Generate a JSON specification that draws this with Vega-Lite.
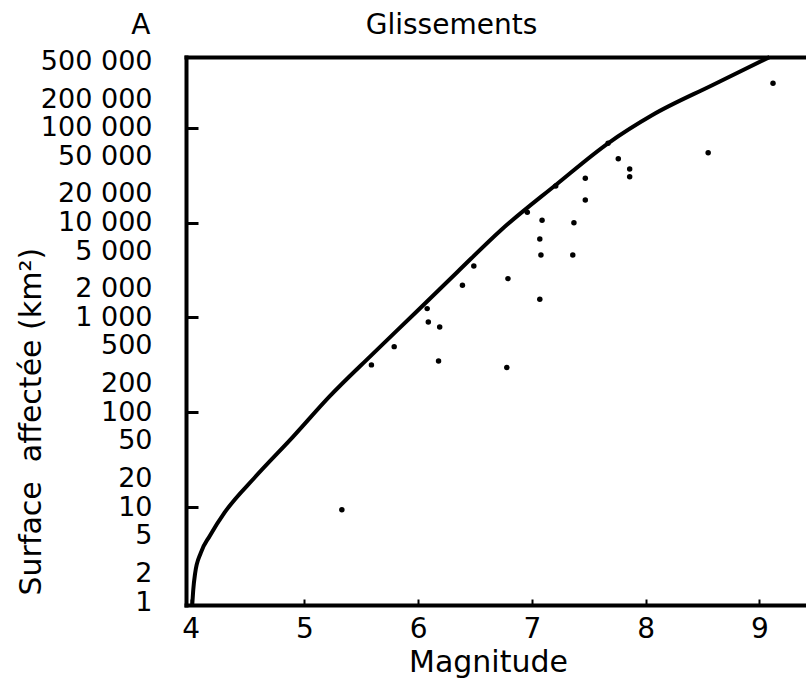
{
  "$schema": "https://vega.github.io/schema/vega-lite/v6.json",
  "width": 620,
  "height": 548,
  "autosize": "none",
  "padding": {"left": 186, "top": 57, "right": 0, "bottom": 75},
  "background": "white",
  "config": {
    "view": {"stroke": null},
    "font": "DejaVu Sans",
    "locale": {"number": {"decimal": ",", "thousands": " ", "grouping": [3], "currency": ["", ""]}}
  },
  "datasets": {
    "curve": [
      {"magnitude": 4.015, "surface": 0.93},
      {"magnitude": 4.024, "surface": 1.35},
      {"magnitude": 4.04, "surface": 2.0},
      {"magnitude": 4.09, "surface": 3.3},
      {"magnitude": 4.17, "surface": 5.0},
      {"magnitude": 4.3, "surface": 8.8},
      {"magnitude": 4.57, "surface": 20.9},
      {"magnitude": 4.9, "surface": 55},
      {"magnitude": 5.22, "surface": 146},
      {"magnitude": 5.6, "surface": 410},
      {"magnitude": 5.97, "surface": 1100},
      {"magnitude": 6.35, "surface": 3050},
      {"magnitude": 6.73, "surface": 8360},
      {"magnitude": 7.21, "surface": 24900},
      {"magnitude": 7.67, "surface": 68500},
      {"magnitude": 8.06, "surface": 136000},
      {"magnitude": 8.59, "surface": 282000},
      {"magnitude": 9.09, "surface": 556000}
    ],
    "points": [
      {"magnitude": 5.33, "surface": 9.4},
      {"magnitude": 5.59, "surface": 316},
      {"magnitude": 5.79, "surface": 492},
      {"magnitude": 6.08, "surface": 1238},
      {"magnitude": 6.09, "surface": 897},
      {"magnitude": 6.19, "surface": 794},
      {"magnitude": 6.18, "surface": 348},
      {"magnitude": 6.39, "surface": 2183},
      {"magnitude": 6.49, "surface": 3489},
      {"magnitude": 6.79, "surface": 2564},
      {"magnitude": 6.78, "surface": 296},
      {"magnitude": 6.96, "surface": 12840},
      {"magnitude": 7.09, "surface": 10570},
      {"magnitude": 7.07, "surface": 6714},
      {"magnitude": 7.08, "surface": 4556},
      {"magnitude": 7.07, "surface": 1555},
      {"magnitude": 7.21, "surface": 24300},
      {"magnitude": 7.37, "surface": 9970},
      {"magnitude": 7.36, "surface": 4556},
      {"magnitude": 7.47, "surface": 29300},
      {"magnitude": 7.47, "surface": 17300},
      {"magnitude": 7.67, "surface": 68470},
      {"magnitude": 7.76, "surface": 47130},
      {"magnitude": 7.86, "surface": 36720},
      {"magnitude": 7.86, "surface": 30450},
      {"magnitude": 8.55, "surface": 54530},
      {"magnitude": 9.12, "surface": 293800}
    ]
  },
  "layer": [
    {
      "data": {"name": "curve"},
      "mark": {"type": "line", "color": "black", "strokeWidth": 4, "interpolate": "monotone"},
      "encoding": {
        "x": {
          "field": "magnitude", "type": "quantitative",
          "scale": {"domain": [3.96, 9.41], "nice": false, "zero": false},
          "axis": {"orient": "top", "ticks": false, "labels": false, "grid": false, "domain": true, "domainWidth": 4, "domainColor": "black", "domainCap": "square",
            "title": "Glissements", "titleX": 265, "titleY": -24, "titleAlign": "center", "titleBaseline": "alphabetic", "titleAngle": 0, "titleFontSize": 28, "titleFontWeight": "normal", "titleColor": "black"}
        },
        "y": {
          "field": "surface", "type": "quantitative",
          "scale": {"type": "log", "domain": [0.93, 556000], "nice": false},
          "axis": {"orient": "left", "values": [1, 2, 5, 10, 20, 50, 100, 200, 500, 1000, 2000, 5000, 10000, 20000, 50000, 100000, 200000, 500000],
            "format": ",d", "labelFontSize": 27, "labelColor": "black", "labelPadding": 46, "labelOverlap": false, "labelFlush": false,
            "tickSize": -12, "tickWidth": 3, "tickColor": "black",
            "tickOpacity": {"condition": {"test": "indexof([10, 100, 1000, 10000, 100000], datum.value) >= 0", "value": 1}, "value": 0},
            "domainWidth": 4, "domainColor": "black", "domainCap": "square", "grid": false,
            "title": "Surface\u00a0 affectée (km²)", "titleFontSize": 30, "titleFontWeight": "normal", "titleColor": "black",
            "titleX": -155, "titleY": 538, "titleAlign": "left", "titleBaseline": "middle", "titleAngle": -90}
        }
      }
    },
    {
      "data": {"name": "points"},
      "mark": {"type": "circle", "color": "black", "size": 30, "opacity": 1},
      "encoding": {
        "x": {
          "field": "magnitude", "type": "quantitative",
          "axis": {"orient": "bottom", "values": [4, 4.5, 5, 5.5, 6, 6.5, 7, 7.5, 8, 8.5, 9],
            "format": "d", "labelExpr": "datum.value % 1 === 0 ? datum.label : ''", "labelFontSize": 28, "labelColor": "black", "labelPadding": 16, "labelFlush": false,
            "tickSize": -6, "tickWidth": 2, "tickColor": "black",
            "domainWidth": 4, "domainColor": "black", "domainCap": "square", "grid": false,
            "title": "Magnitude", "titleFontSize": 30, "titleFontWeight": "normal", "titleColor": "black", "titlePadding": 4, "titleX": 302}
        },
        "y": {
          "field": "surface", "type": "quantitative",
          "axis": {"orient": "right", "ticks": false, "labels": false, "domain": false, "grid": false,
            "title": "A", "titleX": -656, "titleY": -24, "titleAlign": "right", "titleBaseline": "alphabetic", "titleAngle": 0, "titleFontSize": 28, "titleFontWeight": "normal", "titleColor": "black"}
        }
      }
    }
  ]
}
